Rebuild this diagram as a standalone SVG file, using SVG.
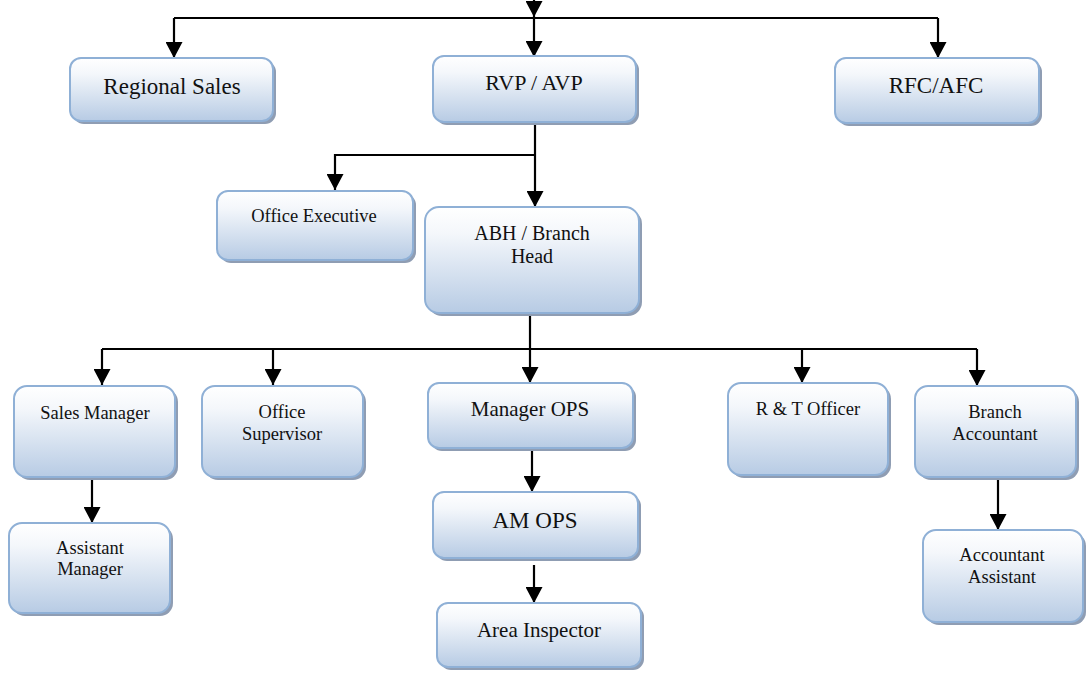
<svg xmlns="http://www.w3.org/2000/svg" width="1086" height="676" viewBox="0 0 1086 676">
<defs>
<linearGradient id="g" x1="0" y1="0" x2="0" y2="1">
<stop offset="0" stop-color="#ffffff"/>
<stop offset="0.25" stop-color="#f4f7fb"/>
<stop offset="1" stop-color="#b7cbe4"/>
</linearGradient>
<marker id="ah" viewBox="0 0 16 17" refX="16" refY="8.5" markerWidth="16" markerHeight="17" markerUnits="userSpaceOnUse" orient="auto">
<path d="M0,0 L16,8.5 L0,17 Z" fill="#000"/>
</marker>
<style>
.sh{fill:#8f9db3}
.bx{fill:url(#g);stroke:#8fb0d6;stroke-width:2}
text{font-family:"Liberation Serif","Times New Roman",serif;fill:#111;text-anchor:middle}
.c{fill:none;stroke:#000;stroke-width:2.2}
.a{marker-end:url(#ah)}
</style>
</defs>
<rect width="1086" height="676" fill="#fff"/>
<g id="connectors">
<path class="c a" d="M534,-10 V17"/>
<path class="c" d="M174,18 H938"/>
<path class="c a" d="M174,18 V58"/>
<path class="c a" d="M534,18 V57"/>
<path class="c a" d="M938,18 V58"/>
<path class="c a" d="M535,122 V207"/>
<path class="c a" d="M535,155 H335 V190"/>
<path class="c" d="M530,313 V349"/>
<path class="c" d="M102,349 H977"/>
<path class="c a" d="M102,349 V385"/>
<path class="c a" d="M273,349 V385"/>
<path class="c a" d="M530,349 V383"/>
<path class="c a" d="M802,349 V383"/>
<path class="c a" d="M977,349 V386"/>
<path class="c a" d="M92,477 V523"/>
<path class="c a" d="M532,451 V492"/>
<path class="c a" d="M534,565 V603"/>
<path class="c a" d="M998,477 V530"/>
</g>
<g id="regional-sales">
<rect class="sh" x="73" y="61" width="203" height="63" rx="11"/>
<rect class="bx" x="70" y="58" width="203" height="63" rx="11"/>
<text x="172" y="94" font-size="23">Regional Sales</text>
</g>
<g id="rvp-avp">
<rect class="sh" x="436" y="59" width="203" height="66" rx="11"/>
<rect class="bx" x="433" y="56" width="203" height="66" rx="11"/>
<text x="534" y="90" font-size="22">RVP / AVP</text>
</g>
<g id="rfc-afc">
<rect class="sh" x="838" y="61" width="204" height="65" rx="11"/>
<rect class="bx" x="835" y="58" width="204" height="65" rx="11"/>
<text x="936" y="93" font-size="23">RFC/AFC</text>
</g>
<g id="office-executive">
<rect class="sh" x="220" y="194" width="196" height="69" rx="11"/>
<rect class="bx" x="217" y="191" width="196" height="69" rx="11"/>
<text x="314" y="222" font-size="18.5">Office Executive</text>
</g>
<g id="abh-branch-head">
<rect class="sh" x="428" y="210" width="214" height="106" rx="14"/>
<rect class="bx" x="425" y="207" width="214" height="106" rx="14"/>
<text x="532" y="240" font-size="20">ABH / Branch</text>
<text x="532" y="263" font-size="20">Head</text>
</g>
<g id="sales-manager">
<rect class="sh" x="17" y="389" width="161" height="91" rx="13"/>
<rect class="bx" x="14" y="386" width="161" height="91" rx="13"/>
<text x="95" y="419" font-size="18.5">Sales Manager</text>
</g>
<g id="office-supervisor">
<rect class="sh" x="205" y="389" width="161" height="91" rx="13"/>
<rect class="bx" x="202" y="386" width="161" height="91" rx="13"/>
<text x="282" y="418" font-size="18.5">Office</text>
<text x="282" y="440" font-size="18.5">Supervisor</text>
</g>
<g id="manager-ops">
<rect class="sh" x="431" y="386" width="205" height="65" rx="11"/>
<rect class="bx" x="428" y="383" width="205" height="65" rx="11"/>
<text x="530" y="416" font-size="21">Manager OPS</text>
</g>
<g id="r-t-officer">
<rect class="sh" x="731" y="386" width="160" height="92" rx="13"/>
<rect class="bx" x="728" y="383" width="160" height="92" rx="13"/>
<text x="808" y="415" font-size="18.5">R &amp; T Officer</text>
</g>
<g id="branch-accountant">
<rect class="sh" x="918" y="389" width="161" height="91" rx="13"/>
<rect class="bx" x="915" y="386" width="161" height="91" rx="13"/>
<text x="995" y="418" font-size="18.5">Branch</text>
<text x="995" y="440" font-size="18.5">Accountant</text>
</g>
<g id="assistant-manager">
<rect class="sh" x="12" y="526" width="161" height="90" rx="13"/>
<rect class="bx" x="9" y="523" width="161" height="90" rx="13"/>
<text x="90" y="554" font-size="18.5">Assistant</text>
<text x="90" y="575" font-size="18.5">Manager</text>
</g>
<g id="am-ops">
<rect class="sh" x="436" y="495" width="205" height="66" rx="11"/>
<rect class="bx" x="433" y="492" width="205" height="66" rx="11"/>
<text x="535" y="528" font-size="23">AM OPS</text>
</g>
<g id="area-inspector">
<rect class="sh" x="440" y="606" width="204" height="64" rx="11"/>
<rect class="bx" x="437" y="603" width="204" height="64" rx="11"/>
<text x="539" y="637" font-size="21">Area Inspector</text>
</g>
<g id="accountant-assistant">
<rect class="sh" x="926" y="533" width="160" height="92" rx="13"/>
<rect class="bx" x="923" y="530" width="160" height="92" rx="13"/>
<text x="1002" y="561" font-size="18.5">Accountant</text>
<text x="1002" y="583" font-size="18.5">Assistant</text>
</g>
</svg>
